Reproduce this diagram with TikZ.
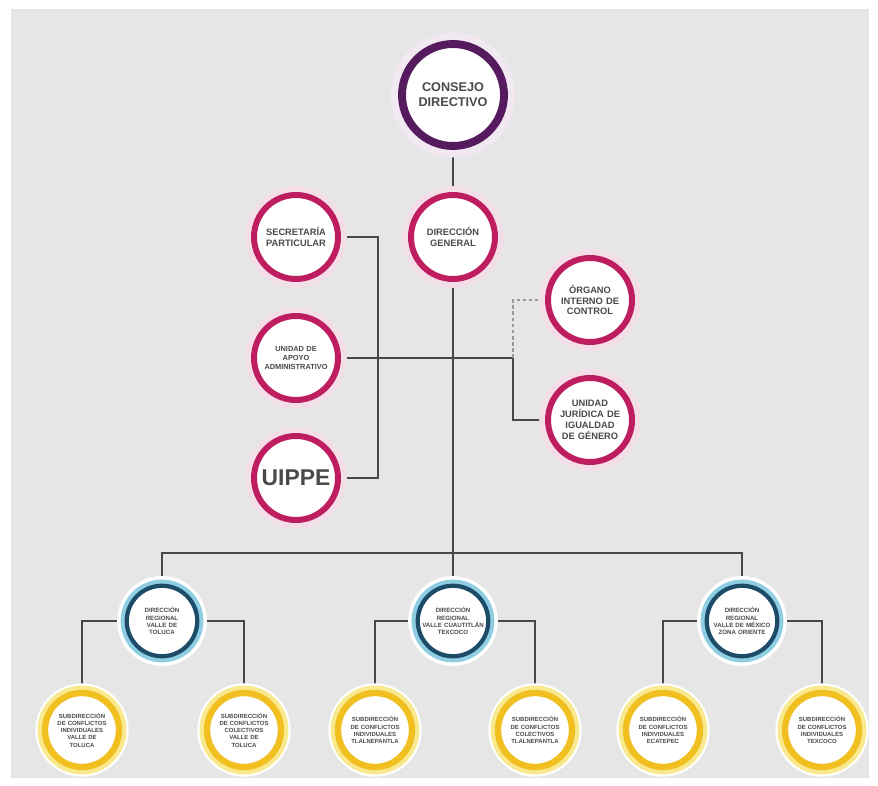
\documentclass[tikz,border=0pt]{standalone}
\usepackage{fontspec}
\setmainfont{Liberation Sans}
\usetikzlibrary{backgrounds}

\definecolor{fondo}{HTML}{E6E6E6}
\definecolor{texto}{HTML}{4A4A4A}
\definecolor{linea}{HTML}{474747}
\definecolor{morado}{HTML}{561A5E}
\definecolor{halomorado}{HTML}{F1E8F2}
\definecolor{rosa}{HTML}{BE1E5F}
\definecolor{halorosa}{HTML}{F3DDE7}
\definecolor{azul}{HTML}{1D4C69}
\definecolor{azulclaro}{HTML}{8FCDE2}
\definecolor{amarillo}{HTML}{F1BF1F}
\definecolor{haloamarillo}{HTML}{F8E88E}

\hyphenpenalty=10000
\exhyphenpenalty=10000

\tikzset{
  circulo/.style={circle, fill=white, inner sep=0pt, align=center, text=texto},
  consejo/.style={circulo, draw=morado, line width=4.5pt, minimum size=2.04cm,
    text width=1.6cm, preaction={draw=halomorado, line width=13pt},
    font=\bfseries\fontsize{7.2}{8.4}\selectfont},
  area/.style={circulo, draw=rosa, line width=3.4pt, minimum size=1.68cm,
    text width=1.4cm, preaction={draw=halorosa, line width=10pt},
    font=\bfseries\fontsize{5.3}{6.2}\selectfont},
  regional/.style={circulo, draw=azul, line width=2.4pt, minimum size=1.32cm,
    text width=1.3cm, preaction={draw=white, line width=11pt},
    preaction={draw=azulclaro, line width=7pt},
    font=\bfseries\fontsize{3.5}{4.2}\selectfont},
  subdir/.style={circulo, draw=amarillo, line width=3.6pt, minimum size=1.48cm,
    text width=1.3cm, preaction={draw=white, line width=11pt},
    preaction={draw=haloamarillo, line width=8.5pt},
    font=\bfseries\fontsize{3.4}{4.1}\selectfont},
  conector/.style={draw=linea, line width=1.6pt},
  punteado/.style={draw=gray!80, line width=1.2pt, dash pattern=on 2pt off 1.5pt}
}

\begin{document}
\begin{tikzpicture}[x=0.02cm, y=-0.02cm]
  \useasboundingbox (0,0) rectangle (878,786);
  \begin{pgfonlayer}{background}
    \fill[fondo] (11,9) rectangle (869,778);
  \end{pgfonlayer}

  \def \Areas {
    dg/453/237/{DIRECCIÓN\\GENERAL},
    sp/296/237/{SECRETARÍA\\PARTICULAR},
    oic/590/300/{ÓRGANO\\INTERNO DE\\CONTROL},
    uj/590/420/{UNIDAD\\JURÍDICA DE\\IGUALDAD\\DE GÉNERO}}
  \def \Regionales {
    dr1/162/621/{DIRECCIÓN\\REGIONAL\\VALLE DE\\TOLUCA},
    dr2/453/621/{DIRECCIÓN\\REGIONAL\\VALLE CUAUTITLÁN\\TEXCOCO},
    dr3/742/621/{DIRECCIÓN\\REGIONAL\\VALLE DE MÉXICO\\ZONA ORIENTE}}
  \def \Subdirecciones {
    s1/82/730/{SUBDIRECCIÓN\\DE CONFLICTOS\\INDIVIDUALES\\VALLE DE\\TOLUCA},
    s2/244/730/{SUBDIRECCIÓN\\DE CONFLICTOS\\COLECTIVOS\\VALLE DE\\TOLUCA},
    s3/375/730/{SUBDIRECCIÓN\\DE CONFLICTOS\\INDIVIDUALES\\TLALNEPANTLA},
    s4/535/730/{SUBDIRECCIÓN\\DE CONFLICTOS\\COLECTIVOS\\TLALNEPANTLA},
    s5/663/730/{SUBDIRECCIÓN\\DE CONFLICTOS\\INDIVIDUALES\\ECATEPEC},
    s6/822/730/{SUBDIRECCIÓN\\DE CONFLICTOS\\INDIVIDUALES\\TEXCOCO}}

  \node[consejo] (cd) at (453,95) {CONSEJO\\DIRECTIVO};
  \foreach \id / \x / \y / \txt in \Areas {
    \node[area] (\id) at (\x, \y) {\txt};
  }
  \node[area, font=\bfseries\fontsize{4.2}{5}\selectfont] (ua) at (296,358)
    {UNIDAD DE\\APOYO\\ADMINISTRATIVO};
  \node[area, font=\bfseries\fontsize{13}{14}\selectfont] (uippe) at (296,478) {UIPPE};
  \foreach \id / \x / \y / \txt in \Regionales {
    \node[regional] (\id) at (\x, \y) {\txt};
  }
  \foreach \id / \x / \y / \txt in \Subdirecciones {
    \node[subdir] (\id) at (\x, \y) {\txt};
  }

  \coordinate (cruce) at (513,358);
  \coordinate (bus) at (453,553);

  \begin{pgfonlayer}{background}
    \path[conector] (cd.south) -- (dg.north);
    \path[conector] (sp.east) -- ++(37,0) |- (uippe.east);
    \path[conector] (ua.east) -- (cruce) |- (uj.west);
    \path[punteado] (cruce) |- (oic.west);
    \path[conector] (dg.south) -- (bus) -- (dr2.north);
    \path[conector] (dr1.north) |- (bus) -| (dr3.north);
    \path[conector] (s1.north) |- (dr1.west);
    \path[conector] (s2.north) |- (dr1.east);
    \path[conector] (s3.north) |- (dr2.west);
    \path[conector] (s4.north) |- (dr2.east);
    \path[conector] (s5.north) |- (dr3.west);
    \path[conector] (s6.north) |- (dr3.east);
  \end{pgfonlayer}
\end{tikzpicture}
\end{document}
